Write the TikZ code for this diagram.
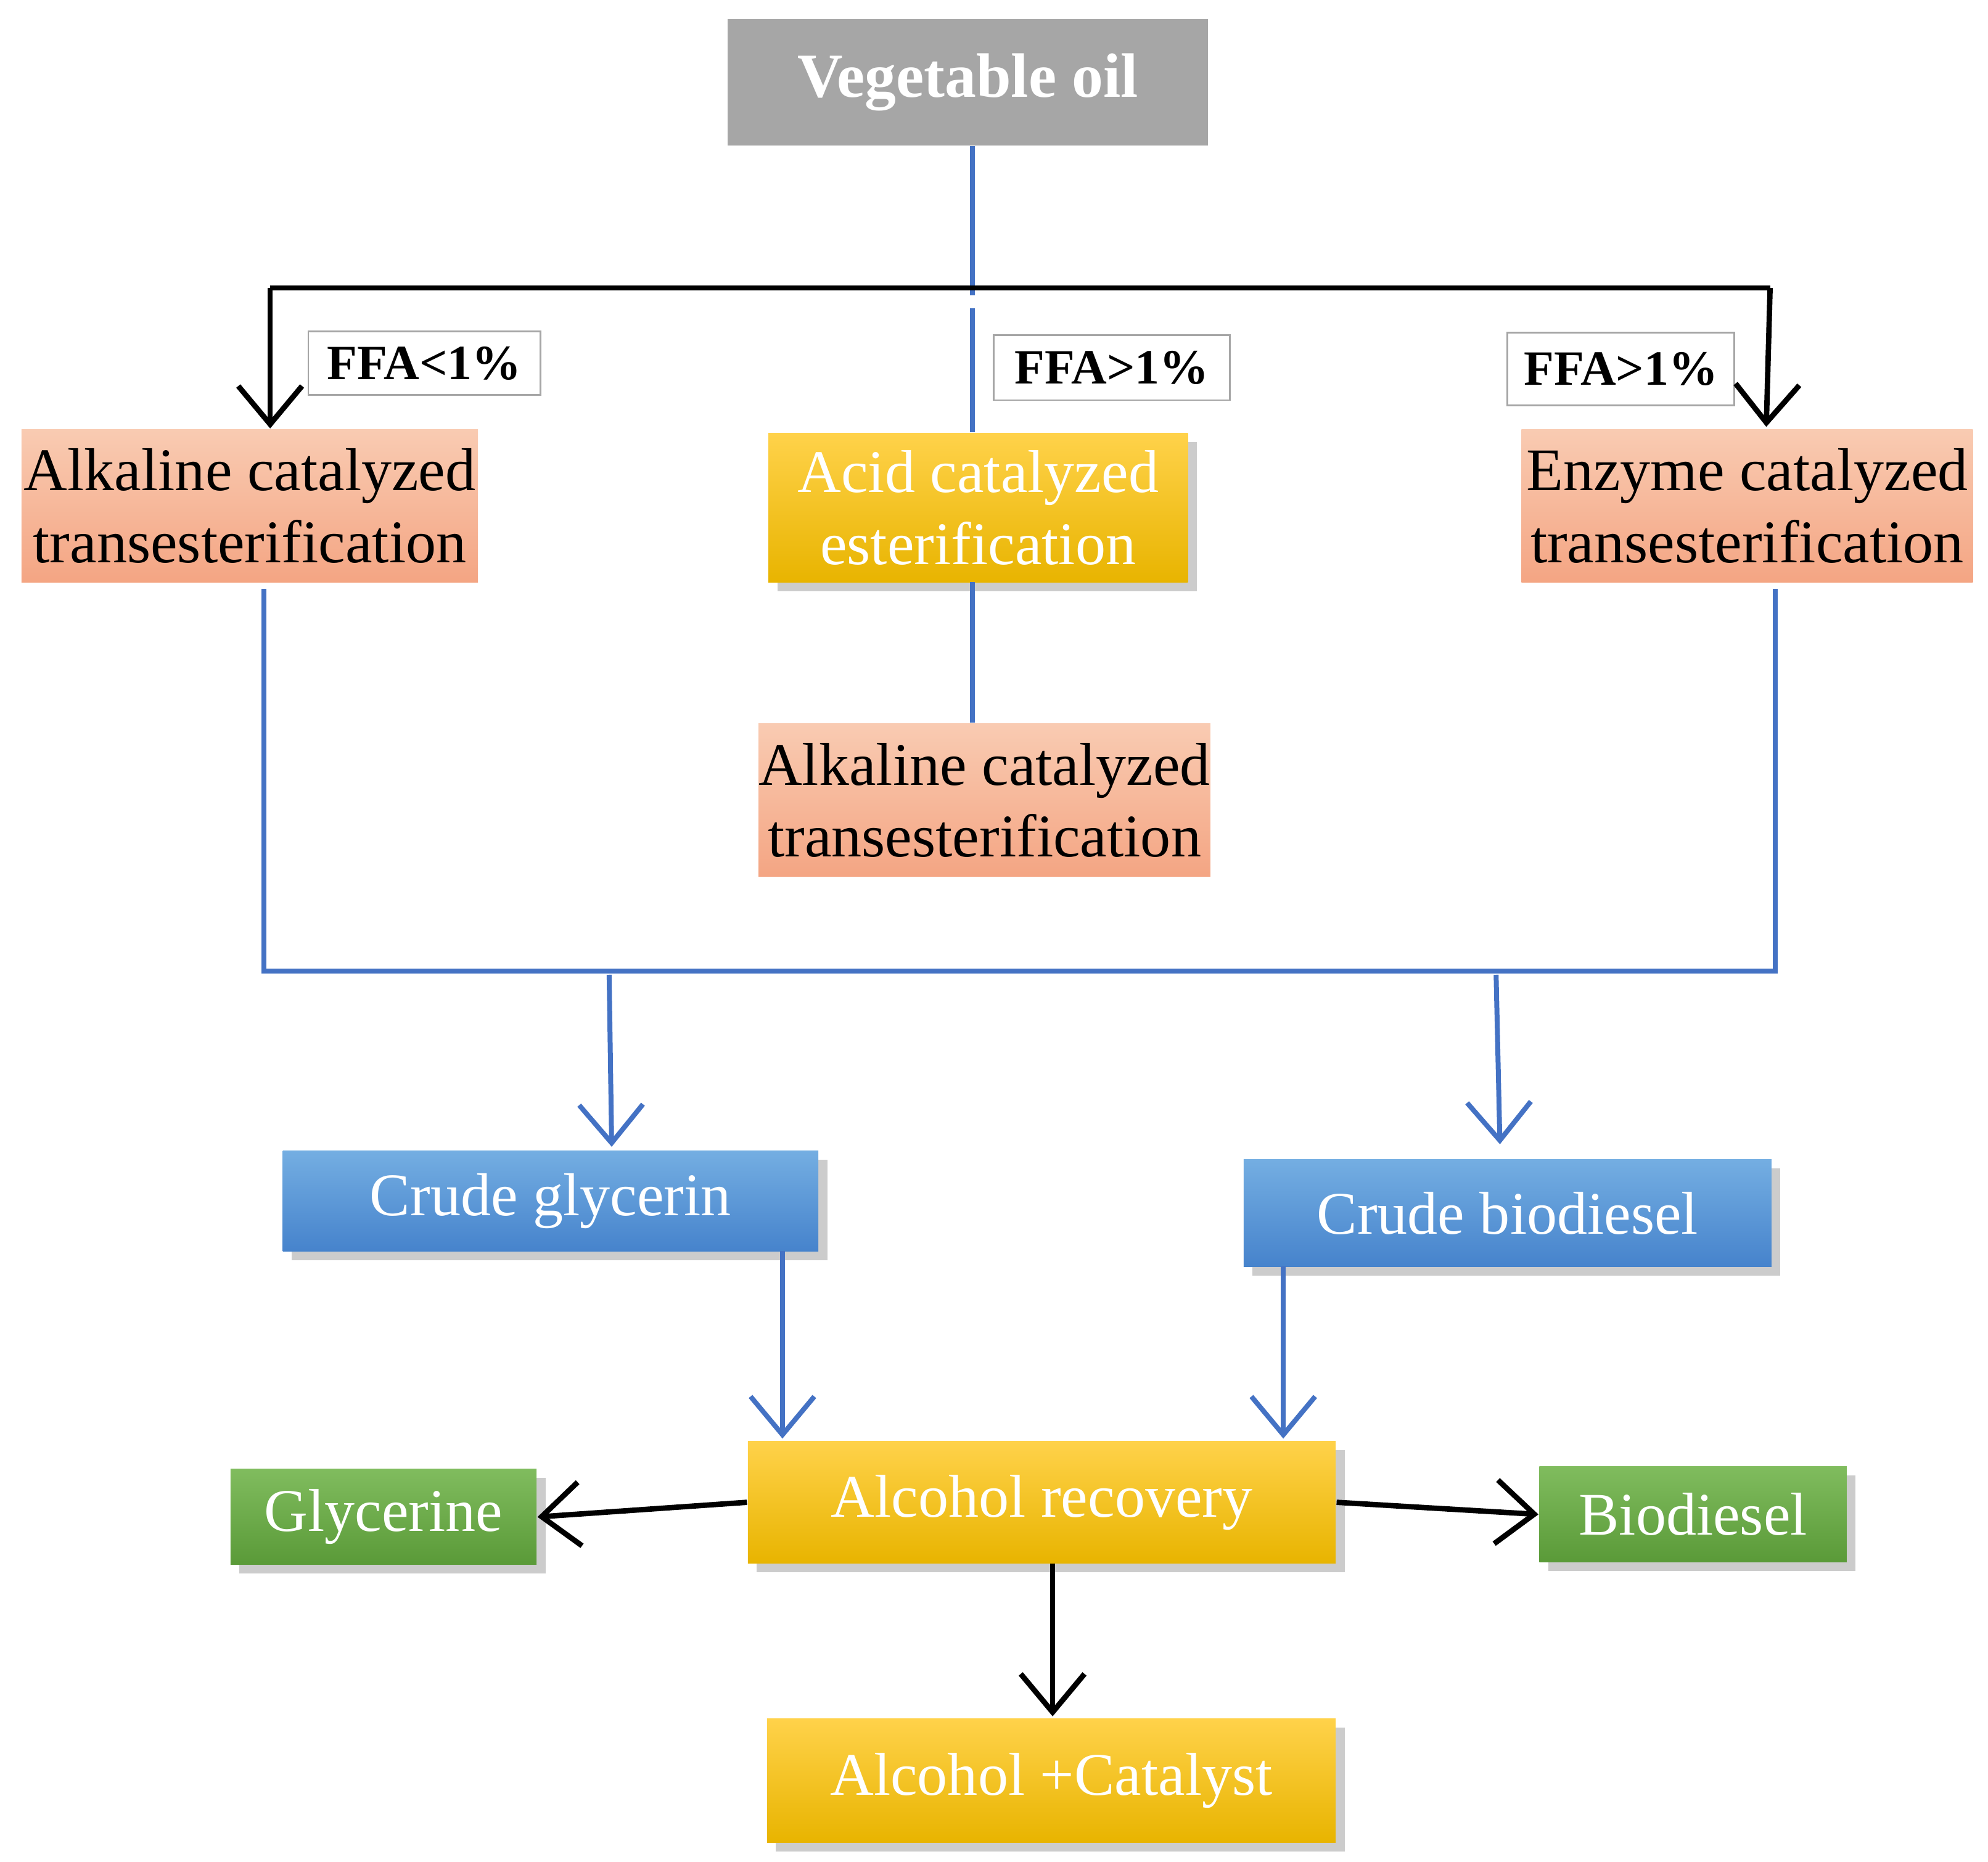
\documentclass[tikz,border=0pt]{standalone}
\usepackage{fontspec}
\setmainfont{Liberation Serif}
\usetikzlibrary{arrows.meta,shadows}
\definecolor{sal1}{HTML}{F9CBB2}\definecolor{sal2}{HTML}{F4A583}
\definecolor{gold1}{HTML}{FFD24A}\definecolor{gold2}{HTML}{E8B400}
\definecolor{blu1}{HTML}{74AEE2}\definecolor{blu2}{HTML}{4683CC}
\definecolor{grn1}{HTML}{80BC5E}\definecolor{grn2}{HTML}{5A9A38}
\definecolor{lblue}{HTML}{4472C4}
\begin{document}
\begin{tikzpicture}[x=0.01cm,y=-0.01cm,
  box/.style={inner sep=0pt,align=center,font=\fontsize{13.5}{16}\selectfont},
  sal/.style={box,top color=sal1,bottom color=sal2,text=black},
  gold/.style={box,top color=gold1,bottom color=gold2,text=white,drop shadow={opacity=0.4,shadow xshift=2pt,shadow yshift=-2pt}},
  blu/.style={box,top color=blu1,bottom color=blu2,text=white,drop shadow={opacity=0.4,shadow xshift=2pt,shadow yshift=-2pt}},
  grn/.style={box,top color=grn1,bottom color=grn2,text=white,drop shadow={opacity=0.4,shadow xshift=2pt,shadow yshift=-2pt}},
  ffa/.style={draw=gray!70,fill=white,inner sep=0pt,font=\bfseries\fontsize{11}{13}\selectfont},
  bl/.style={lblue,line width=1.1pt},
  bk/.style={black,line width=1.2pt},
  arr/.style={-{Straight Barb[length=3mm,width=5mm]}}]
\useasboundingbox (0,0) rectangle (1560,1461);
\node[box,fill=gray!70,text=white,font=\bfseries\fontsize{14}{16}\selectfont,minimum width=377\pgflinewidth/\pgflinewidth*0.01cm,minimum height=0.99cm] (veg) at (759.5,64.5) {Vegetable oil};
\node[sal,minimum width=3.58cm,minimum height=1.2cm] (alk1) at (196,397) {Alkaline catalyzed\\transesterification};
\node[gold,minimum width=3.29cm,minimum height=1.17cm] (acid) at (767.5,398.5) {Acid catalyzed\\esterification};
\node[sal,minimum width=3.54cm,minimum height=1.2cm] (enz) at (1371,397) {Enzyme catalyzed\\transesterification};
\node[sal,minimum width=3.39cm,minimum height=1.2cm] (alk2) at (772.5,628) {Alkaline catalyzed\\transesterification};
\node[ffa,minimum width=1.82cm,minimum height=0.5cm] (f1) at (333,285) {FFA<1\%};
\node[ffa,minimum width=1.85cm,minimum height=0.51cm] (f2) at (872.5,288.5) {FFA>1\%};
\node[ffa,minimum width=1.78cm,minimum height=0.57cm] (f3) at (1272,289.5) {FFA>1\%};
\node[blu,minimum width=4.2cm,minimum height=0.79cm] (cg) at (432,942.5) {Crude glycerin};
\node[blu,minimum width=4.14cm,minimum height=0.84cm] (cb) at (1183,952) {Crude biodiesel};
\node[gold,minimum width=4.61cm,minimum height=0.96cm] (ar) at (817.5,1179) {Alcohol recovery};
\node[grn,minimum width=2.4cm,minimum height=0.75cm] (gly) at (301,1190.5) {Glycerine};
\node[grn,minimum width=2.41cm,minimum height=0.75cm] (bio) at (1328.5,1188.5) {Biodiesel};
\node[gold,minimum width=4.46cm,minimum height=0.97cm] (ac) at (825,1397.5) {Alcohol +Catalyst};
% top branches
\coordinate (t1) at (763,232); \coordinate (t2) at (763,242);
\coordinate (hL) at (212,226); \coordinate (hR) at (1389,226);
\draw[bl] (veg.south -| t1) -- (t1);
\draw[bk] (hL) -- (hR);
\draw[bk,arr] (hL) -- (hL |- alk1.north);
\draw[bk,arr] (hR) -- (1386,335);
\draw[bl] (t2) -- (t2 |- acid.north);
\draw[bl] (763,457) -- (763,567);
% collector
\coordinate (cL) at (207,762); \coordinate (cR) at (1393,762);
\draw[bl] (207,462) -- (cL) -- (cR) -- (1393,462);
\draw[bl,arr] (478,765) -- (480,900);
\draw[bl,arr] (1174,765) -- (1177,898);
\draw[bl,arr] (614,982) -- (614,1129);
\draw[bl,arr] (1007,994) -- (1007,1129);
\draw[bk,arr] (ar.west) -- (gly.east);
\draw[bk,arr] (ar.east) -- (bio.west);
\draw[bk,arr] (826,1227) -- (826,1347);
\end{tikzpicture}
\end{document}
